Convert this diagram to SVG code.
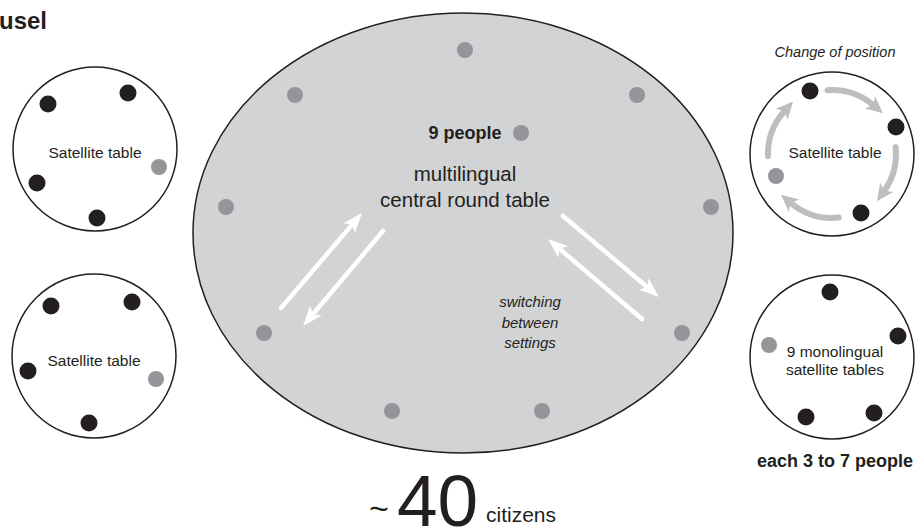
<svg xmlns="http://www.w3.org/2000/svg" width="915" height="531" viewBox="0 0 915 531">
  <style>
    .table { fill: #ffffff; stroke: #231f20; stroke-width: 1.5; }
    .central { fill: #d1d3d4; stroke: #231f20; stroke-width: 1.5; }
    .seat { fill: #231f20; }
    .guest { fill: #939598; }
    .lbl { font-family: "Liberation Sans", Arial, sans-serif; fill: #231f20; text-anchor: middle; }
    .sat { font-size: 15.5px; }
    .big { font-size: 20.5px; }
    .bold { font-weight: bold; font-size: 18px; }
    .ital { font-style: italic; font-size: 15px; }
    .swap { fill: none; stroke: #ffffff; stroke-width: 4.5; stroke-linecap: round; marker-end: url(#headWhite); }
    .turn { fill: none; stroke: #bcbec0; stroke-width: 6; stroke-linecap: round; marker-end: url(#headGray); }
  </style>
  <defs>
    <marker id="headWhite" markerUnits="userSpaceOnUse" viewBox="-6 -9 22 18" markerWidth="22" markerHeight="18" refX="0" refY="0" orient="auto">
      <path d="M15,0 L-5,-7.5 L0,0 L-5,7.5 Z" fill="#ffffff"/>
    </marker>
    <marker id="headGray" markerUnits="userSpaceOnUse" viewBox="-6 -10 22 20" markerWidth="22" markerHeight="20" refX="0" refY="0" orient="auto">
      <path d="M13,0 L-4,-8 L0,0 L-4,8 Z" fill="#bcbec0"/>
    </marker>
  </defs>

  <!-- heading, cut at the left edge -->
  <g id="title">
    <text x="-1" y="29" font-family="Liberation Sans, Arial, sans-serif" font-weight="bold" font-size="24" fill="#231f20">usel</text>
  </g>

  <!-- multilingual central round table -->
  <g id="central-table">
    <ellipse class="central" cx="463" cy="233" rx="270" ry="220"/>
    <circle class="guest" cx="465" cy="50" r="8"/>
    <circle class="guest" cx="295" cy="95" r="8"/>
    <circle class="guest" cx="637" cy="95" r="8"/>
    <circle class="guest" cx="226" cy="207" r="8"/>
    <circle class="guest" cx="711" cy="207" r="8"/>
    <circle class="guest" cx="264" cy="333" r="8"/>
    <circle class="guest" cx="682" cy="333" r="8"/>
    <circle class="guest" cx="392" cy="411" r="8"/>
    <circle class="guest" cx="542" cy="411" r="8"/>
    <text class="lbl bold" x="465" y="139">9 people</text>
    <circle class="guest" cx="521" cy="133" r="8"/>
    <text class="lbl big" x="465" y="181">multilingual</text>
    <text class="lbl big" x="465" y="207">central round table</text>
    <text class="lbl ital" x="530" y="307">switching</text>
    <text class="lbl ital" x="530" y="328">between</text>
    <text class="lbl ital" x="530" y="348">settings</text>
  </g>

  <!-- left satellite tables -->
  <g id="satellite-upper">
    <circle class="table" cx="95" cy="149" r="82"/>
    <circle class="seat" cx="48" cy="104" r="8.5"/>
    <circle class="seat" cx="128" cy="93" r="8.5"/>
    <circle class="seat" cx="37" cy="183" r="8.5"/>
    <circle class="seat" cx="97" cy="218" r="8.5"/>
    <circle class="guest" cx="159" cy="167" r="8"/>
    <text class="lbl sat" x="95" y="158">Satellite table</text>
  </g>

  <g id="satellite-lower">
    <circle class="table" cx="94" cy="356" r="82"/>
    <circle class="seat" cx="51" cy="306" r="8.5"/>
    <circle class="seat" cx="132" cy="302" r="8.5"/>
    <circle class="seat" cx="28" cy="371" r="8.5"/>
    <circle class="seat" cx="89" cy="423" r="8.5"/>
    <circle class="guest" cx="156" cy="379" r="8"/>
    <text class="lbl sat" x="94" y="366">Satellite table</text>
  </g>

  <!-- right satellite tables -->
  <g id="satellite-rotation">
    <text class="lbl" x="835" y="57" font-style="italic" font-size="14.5">Change of position</text>
    <circle class="table" cx="832" cy="154" r="82"/>
    <circle class="seat" cx="810" cy="91" r="8.5"/>
    <circle class="seat" cx="896" cy="127" r="8.5"/>
    <circle class="seat" cx="861" cy="213" r="8.5"/>
    <circle class="guest" cx="776" cy="176" r="8"/>
    <text class="lbl sat" x="835" y="158">Satellite table</text>
  </g>

  <g id="satellite-mono">
    <circle class="table" cx="832" cy="357" r="82"/>
    <circle class="seat" cx="830" cy="292" r="8.5"/>
    <circle class="seat" cx="898" cy="336" r="8.5"/>
    <circle class="seat" cx="874" cy="413" r="8.5"/>
    <circle class="seat" cx="806" cy="417" r="8.5"/>
    <circle class="guest" cx="769" cy="345" r="8"/>
    <text class="lbl sat" x="835" y="357">9 monolingual</text>
    <text class="lbl sat" x="835" y="375">satellite tables</text>
    <text class="lbl bold" x="835" y="467">each 3 to 7 people</text>
  </g>

  <!-- headcount -->
  <g id="headcount">
    <text x="369" y="520" font-family="Liberation Sans, Arial, sans-serif" font-size="34" fill="#231f20">~</text>
    <text x="397" y="526" font-family="Liberation Sans Narrow, Liberation Sans, Arial, sans-serif" font-size="73" fill="#231f20">40</text>
    <text x="486" y="522" font-family="Liberation Sans, Arial, sans-serif" font-size="21" fill="#231f20">citizens</text>
  </g>

  <!-- connectors: switching arrows and rotation arrows -->
  <g id="connectors">
    <path class="swap" d="M281,308 L352.3,224.4"/>
    <path class="swap" d="M383,231 L312.7,314.5"/>
    <path class="swap" d="M563,216 L647.5,287.3"/>
    <path class="swap" d="M642,319 L559.4,248.7"/>
    <path class="turn" d="M827.5,90.2 A64,64 0 0 1 873.1,105"/>
    <path class="turn" d="M895.6,147.3 A64,64 0 0 1 884.4,190.7"/>
    <path class="turn" d="M838.7,217.6 A64,64 0 0 1 790.9,203"/>
    <path class="turn" d="M768,156.2 A64,64 0 0 1 784.4,111.2"/>
  </g>
</svg>
